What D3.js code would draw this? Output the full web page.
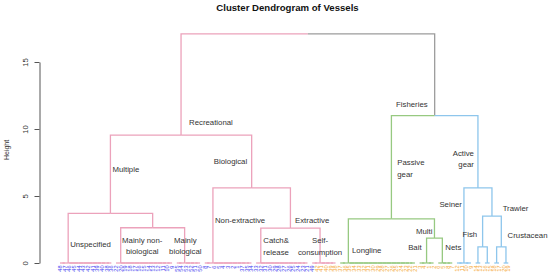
<!DOCTYPE html>
<html>
<head>
<meta charset="utf-8">
<script src="https://cdn.jsdelivr.net/npm/d3@7/dist/d3.min.js"></script>
<style>
body { margin: 0; background: #fff; }
svg { display: block; font-family: "Liberation Sans", Arial, sans-serif; }
</style>
</head>
<body>
<div id="chart"></div>
<script>
// leaf groups, left to right, as they sit at height ~0
var groupNames = ['Unspecified', 'Mainly non-biological', 'Mainly biological', 'Non-extractive', 'Catch & release',
    'Self-consumption', 'Longline', 'Bait', 'Nets', 'Seiner', 'Fish A', 'Fish B', 'Crustacean A', 'Crustacean B'];
var groupSizes = [12, 13, 6, 11, 12, 6, 17, 4, 4, 4, 2, 2, 2, 2];
var groupShapes = ['pair', 'chain', 'pair', 'pair', 'chain', 'pair', 'pair', 'pair', 'chain', 'pair', 'chain', 'chain', 'chain', 'chain'];

var recreationalLabels = ['48', '47', '46', '45', '44', '43', '42', '41', '39', '40', '38', '36',
    '22', '20', '19', '18', '17', '16', '15', '14', '13', '12', '11', '10', '9',
    '55', '54', '53', '52', '51', '50',
    '8', '7', '6', '5', '4', '3', '2', '1', '37', '35', '34',
    '33', '32', '31', '30', '29', '28', '27', '26', '25', '24', '23', '21',
    '49'];
var fisheriesLabels = ['42', '41', '40', '39', '38',
    '37', '36', '35', '34', '33', '32', '31', '30', '29', '28', '27', '26', '25', '24', '23', '22', '21',
    '3', '4', '1', '2', '6', '5', '8', '7', '12', '11', '10', '9',
    '14', '13', '16', '15', '18', '17', '20', '19'];

// merges above the groups
var mergeKeys = ['nonbio', 'multiple', 'extractive', 'biological', 'recreational', 'multi', 'passive',
    'fish', 'crust', 'trawler', 'active', 'fisheries', 'root'];
var mergeLeft = ['Mainly non-biological', 'Unspecified', 'Catch & release', 'Non-extractive', 'multiple', 'Bait',
    'Longline', 'Fish A', 'Crustacean A', 'fish', 'Seiner', 'passive', 'recreational'];
var mergeRight = ['Mainly biological', 'nonbio', 'Self-consumption', 'extractive', 'biological', 'Nets',
    'multi', 'Fish B', 'Crustacean B', 'crust', 'trawler', 'active', 'fisheries'];
var mergeHeights = [2.63, 3.7, 2.6, 5.6, 9.55, 1.85, 3.3, 1.2, 1.2, 3.5, 5.6, 11.0, 17.1];

var branchKeys = ['recreational', 'fisheries', 'passive', 'active'];
var branchColors = ['#eca2bb', '#9c9c9c', '#97c981', '#8ec6ec'];

var yTicks = [0, 5, 10, 15];

// annotations: node, lines, anchor, dx (px), height of first line
var notes = [
    ['recreational', ['Recreational'], 'start', 8, 10.52],
    ['fisheries', ['Fisheries'], 'end', -7, 11.87],
    ['multiple', ['Multiple'], 'start', 2, 7.01],
    ['biological', ['Biological'], 'end', -4.5, 7.61],
    ['Unspecified', ['Unspecified'], 'start', 2, 1.42],
    ['Mainly non-biological', ['Mainly non-', 'biological'], 'middle', 21.5, 1.72],
    ['Mainly biological', ['Mainly', 'biological'], 'middle', 0.7, 1.72],
    ['Non-extractive', ['Non-extractive'], 'start', 2, 3.16],
    ['extractive', ['Extractive'], 'start', 4.6, 3.16],
    ['Catch & release', ['Catch&', 'release'], 'start', 2.5, 1.66],
    ['Self-consumption', ['Self-', 'consumption'], 'middle', 0, 1.66],
    ['Longline', ['Longline'], 'start', 3.6, 0.97],
    ['passive', ['Passive', 'gear'], 'start', 5.8, 7.49],
    ['multi', ['Multi'], 'end', -2, 2.34],
    ['Bait', ['Bait'], 'end', -5, 1.17],
    ['Nets', ['Nets'], 'start', 3, 1.17],
    ['active', ['Active', 'gear'], 'end', -4, 8.19],
    ['Seiner', ['Seiner'], 'end', -2, 4.40],
    ['trawler', ['Trawler'], 'start', 10.7, 4.08],
    ['fish', ['Fish'], 'end', -5.4, 2.14],
    ['crust', ['Crustacean'], 'start', 6.3, 2.09]
];

var width = 550, height = 276;
var allLabels = recreationalLabels.concat(fisheriesLabels);

function chain(list) {
    if (list.length === 1) return list[0];
    return { h: 0, children: [list[0], chain(list.slice(1))] };
}
function buildGroup(leaves, shape) {
    if (shape === 'pair' && leaves.length > 3) {
        return { h: 0, children: [{ h: 0, children: leaves.slice(0, 2) }, chain(leaves.slice(2))] };
    }
    return chain(leaves);
}

var nodes = {};
var leafIdx = 0;
groupNames.forEach(function (g, gi) {
    var leaves = d3.range(groupSizes[gi]).map(function () {
        var i = leafIdx++;
        return { name: allLabels[i], h: 0, i: i };
    });
    nodes[g] = buildGroup(leaves, groupShapes[gi]);
    nodes[g].key = g;
});
mergeKeys.forEach(function (k, i) {
    nodes[k] = { key: k, h: mergeHeights[i], children: [nodes[mergeLeft[i]], nodes[mergeRight[i]]] };
});

var root = d3.hierarchy(nodes.root);
root.eachAfter(function (d) {
    d.x = d.children ? (d.children[0].x + d.children[1].x) / 2 : d.data.i;
});
root.eachBefore(function (d) {
    var bi = branchKeys.indexOf(d.data.key);
    d.color = bi >= 0 ? branchColors[bi] : (d.parent ? d.parent.color : '#999');
});
var byKey = {};
root.each(function (d) { if (d.data.key) byKey[d.data.key] = d; });

var x = d3.scaleLinear().domain([0, allLabels.length - 1]).range([60, 508.3]);
var y = d3.scaleLinear().domain([0, 15]).range([263, 62]);

var svg = d3.select('#chart').append('svg').attr('width', width).attr('height', height);

svg.append('text')
    .attr('x', 287.5).attr('y', 10.5)
    .attr('text-anchor', 'middle')
    .style('font-size', '9.6px').style('font-weight', 'bold').style('fill', '#111')
    .text('Cluster Dendrogram of Vessels');

var yAxis = svg.append('g')
    .attr('transform', 'translate(39.5,0)')
    .call(d3.axisLeft(y).tickValues(yTicks).tickSize(5).tickSizeOuter(0));
yAxis.select('.domain').attr('stroke', '#555');
yAxis.selectAll('.tick line').attr('stroke', '#555');
yAxis.selectAll('.tick text')
    .attr('x', null).attr('dy', null)
    .attr('transform', 'translate(-12,0) rotate(-90)')
    .attr('text-anchor', 'middle')
    .style('font-size', '7.6px').style('fill', '#333')
    .style('font-family', '"Liberation Sans", Arial, sans-serif');

svg.append('text')
    .attr('transform', 'translate(8.5,150) rotate(-90)')
    .attr('text-anchor', 'middle')
    .style('font-size', '7px').style('fill', '#333')
    .text('Height');

svg.append('g').selectAll('path')
    .data(root.descendants().filter(function (d) { return d.parent; }))
    .enter().append('path')
    .attr('d', function (d) {
        return 'M' + x(d.parent.x) + ',' + y(d.parent.data.h) + 'H' + x(d.x) + 'V' + y(d.data.h);
    })
    .attr('fill', 'none')
    .attr('stroke', function (d) { return d.color; })
    .attr('stroke-width', 1.3);

svg.append('g').selectAll('text')
    .data(root.leaves())
    .enter().append('text')
    .attr('transform', function (d) { return 'translate(' + x(d.x) + ',265.5) rotate(-90)'; })
    .attr('dy', '0.35em')
    .attr('text-anchor', 'end')
    .style('font-size', '5.6px')
    .style('fill', function (d) { return d.data.i < recreationalLabels.length ? '#3e3ef0' : '#f5a833'; })
    .text(function (d) { return d.data.name; });

var noteG = svg.append('g').style('font-size', '7.8px').style('fill', '#333');
notes.forEach(function (n) {
    var d = byKey[n[0]];
    var t = noteG.append('text')
        .attr('x', x(d.x) + n[3])
        .attr('y', y(n[4]))
        .attr('dy', '0.35em')
        .attr('text-anchor', n[2]);
    n[1].forEach(function (line, li) {
        t.append('tspan').attr('x', x(d.x) + n[3]).attr('dy', li === 0 ? '0.35em' : '1.45em').text(line);
    });
});
</script>
</body>
</html>
